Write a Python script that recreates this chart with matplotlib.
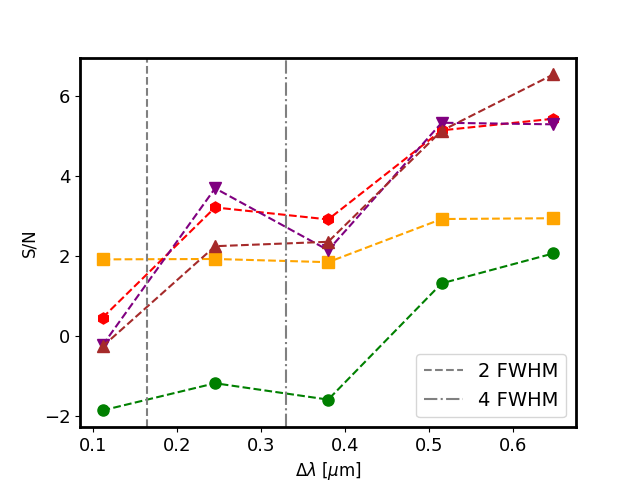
import numpy as np
import matplotlib
matplotlib.use("Agg")
import matplotlib.pyplot as plt

# wavelength offsets (micron)
dlam = [0.1116, 0.2455, 0.380, 0.515, 0.648]
fwhm = 0.0825

# S/N per series
sn_green = [-1.87, -1.19, -1.60, 1.31, 2.06]
sn_orange = [1.91, 1.92, 1.84, 2.92, 2.94]
sn_red = [0.45, 3.21, 2.91, 5.14, 5.43]
sn_purple = [-0.24, 3.69, 2.14, 5.33, 5.29]
sn_brown = [-0.27, 2.24, 2.35, 5.13, 6.54]

fig, ax = plt.subplots(figsize=(6.4, 4.8), dpi=100)

ax.plot(dlam, sn_green, ls="--", marker="o", color="green", ms=8)
ax.plot(dlam, sn_orange, ls="--", marker="s", color="orange", ms=8)
ax.plot(dlam, sn_red, ls="--", marker="h", color="red", ms=8)
ax.plot(dlam, sn_purple, ls="--", marker="v", color="purple", ms=8)
ax.plot(dlam, sn_brown, ls="--", marker="^", color="brown", ms=8)

ax.axvline(2 * fwhm, color="gray", ls="--", label="2 FWHM")
ax.axvline(4 * fwhm, color="gray", ls="-.", label="4 FWHM")

ax.set_xlabel(r"$\Delta\lambda$ [$\mu$m]", fontsize=12)
ax.set_ylabel("S/N", fontsize=12)
ax.tick_params(labelsize=13)
for sp in ax.spines.values():
    sp.set_linewidth(2)

ax.legend(loc="lower right", fontsize=14)

fig.savefig("out.png")
